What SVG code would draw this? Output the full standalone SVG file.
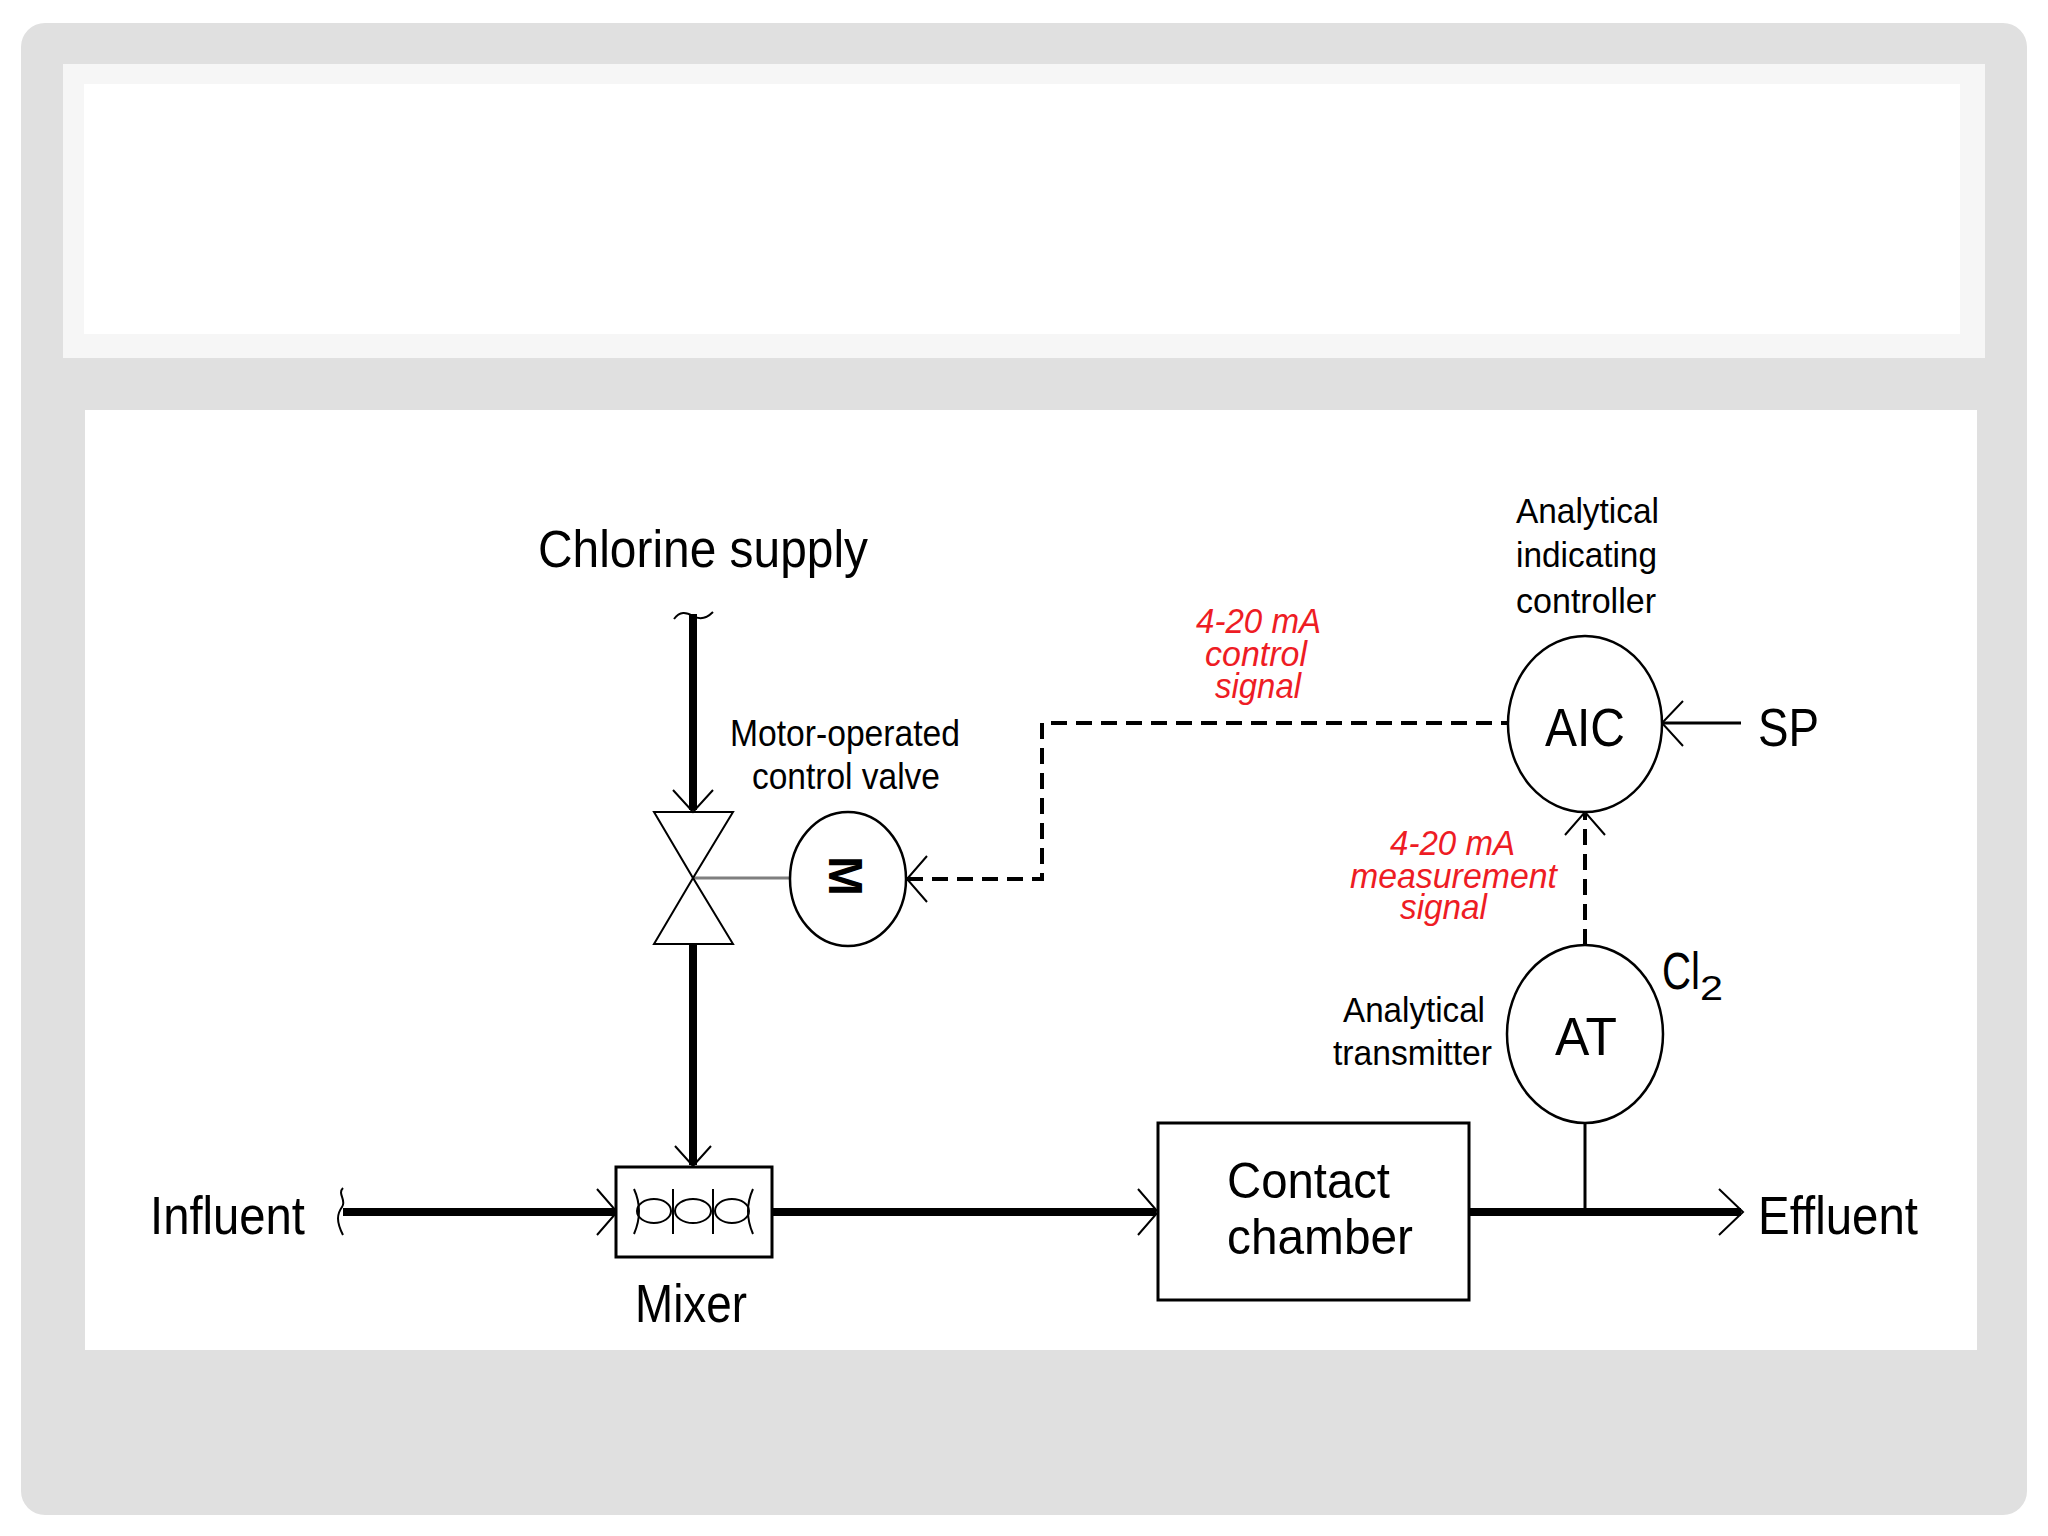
<svg xmlns="http://www.w3.org/2000/svg" width="2048" height="1536" viewBox="0 0 2048 1536">
<defs>
<style>
text{font-family:"Liberation Sans",Arial,sans-serif;fill:#000}
.red{fill:#ee1c24;font-style:italic}
.thin{fill:none;stroke:#000;stroke-width:2}
.pipe{fill:none;stroke:#000;stroke-width:8}
.sig{fill:none;stroke:#000;stroke-width:4;stroke-dasharray:16 9}
.box{fill:#fff;stroke:#000;stroke-width:3}
.inst{fill:#fff;stroke:#000;stroke-width:2.5}
</style>
</defs>
<rect x="0" y="0" width="2048" height="1536" fill="#fff"/>
<rect x="21" y="23" width="2006" height="1492" rx="24" fill="#e0e0e0"/>
<rect x="63" y="64" width="1922" height="294" fill="#f6f6f6"/>
<rect x="84" y="84" width="1876" height="250" fill="#fff"/>
<rect x="85" y="410" width="1892" height="940" fill="#fff"/>

<g id="connectors">
<path class="pipe" d="M693,614 V810" stroke-width="7"/>
<path class="thin" d="M674,619 c6,-8 12,-7 19,-3 s13,3 20,-4"/>
<path class="thin" d="M673,790 L693,812 L713,790"/>
<path class="pipe" d="M693,944 V1165" stroke-width="7"/>
<path class="thin" d="M675,1146 L693,1166 L711,1146"/>
<path d="M693,878 H790" fill="none" stroke="#7f7f7f" stroke-width="3"/>
<path class="sig" d="M907,879 H1042 V723 H1508"/>
<path class="thin" d="M927,856 L907,879 L927,902"/>
<path class="sig" d="M1585,945 V814"/>
<path class="thin" d="M1565,835 L1585,812 L1605,835"/>
<path d="M1741,723 H1663" fill="none" stroke="#000" stroke-width="3"/>
<path class="thin" d="M1683,701 L1662,723 L1683,746"/>
<path d="M1585,1123 V1212" fill="none" stroke="#000" stroke-width="3"/>
<path class="pipe" d="M343,1212 H615"/>
<path class="thin" d="M343,1188 c-6,6 4,12 -1,19 s-6,14 1,28"/>
<path class="thin" d="M597,1189 L617,1212 L597,1235"/>
<path class="pipe" d="M772,1212 H1156"/>
<path class="thin" d="M1138,1189 L1158,1212 L1138,1235"/>
<path class="pipe" d="M1469,1212 H1741"/>
<path class="thin" d="M1719,1189 L1743,1212 L1719,1235"/>
</g>

<g id="chlorine-supply">
<text x="538" y="567" font-size="51" textLength="330" lengthAdjust="spacingAndGlyphs">Chlorine supply</text>
</g>

<g id="control-valve">
<path class="thin" d="M654,812 H733 L693,878 Z"/>
<path class="thin" d="M693,878 L654,944 H733 Z"/>
<text x="730" y="746" font-size="36" textLength="230" lengthAdjust="spacingAndGlyphs">Motor-operated</text>
<text x="752" y="789" font-size="36" textLength="188" lengthAdjust="spacingAndGlyphs">control valve</text>
</g>

<g id="motor">
<ellipse class="inst" cx="848" cy="879" rx="58" ry="67"/>
<text x="0" y="17" font-size="48" font-weight="bold" text-anchor="middle" transform="translate(846,876) rotate(90)">M</text>
</g>

<g id="control-signal-label">
<text class="red" x="1196" y="633" font-size="35" textLength="125" lengthAdjust="spacingAndGlyphs">4-20 mA</text>
<text class="red" x="1205" y="666" font-size="35" textLength="102" lengthAdjust="spacingAndGlyphs">control</text>
<text class="red" x="1215" y="698" font-size="35" textLength="86" lengthAdjust="spacingAndGlyphs">signal</text>
</g>

<g id="aic">
<ellipse class="inst" cx="1585" cy="724" rx="77" ry="88"/>
<text x="1545" y="746" font-size="53" textLength="80" lengthAdjust="spacingAndGlyphs">AIC</text>
<text x="1516" y="523" font-size="35" textLength="143" lengthAdjust="spacingAndGlyphs">Analytical</text>
<text x="1516" y="567" font-size="35" textLength="141" lengthAdjust="spacingAndGlyphs">indicating</text>
<text x="1516" y="613" font-size="35" textLength="140" lengthAdjust="spacingAndGlyphs">controller</text>
</g>

<g id="sp">
<text x="1758" y="746" font-size="53" textLength="61" lengthAdjust="spacingAndGlyphs">SP</text>
</g>

<g id="measurement-signal-label">
<text class="red" x="1390" y="855" font-size="35" textLength="125" lengthAdjust="spacingAndGlyphs">4-20 mA</text>
<text class="red" x="1350" y="888" font-size="35" textLength="207" lengthAdjust="spacingAndGlyphs">measurement</text>
<text class="red" x="1400" y="919" font-size="35" textLength="87" lengthAdjust="spacingAndGlyphs">signal</text>
</g>

<g id="at">
<ellipse class="inst" cx="1585" cy="1034" rx="78" ry="89"/>
<text x="1555" y="1055" font-size="53" textLength="62" lengthAdjust="spacingAndGlyphs">AT</text>
<text x="1662" y="989" font-size="52" textLength="38" lengthAdjust="spacingAndGlyphs">Cl</text>
<text x="1700" y="1000" font-size="35" textLength="23" lengthAdjust="spacingAndGlyphs">2</text>
<text x="1343" y="1022" font-size="35" textLength="142" lengthAdjust="spacingAndGlyphs">Analytical</text>
<text x="1333" y="1065" font-size="35" textLength="159" lengthAdjust="spacingAndGlyphs">transmitter</text>
</g>

<g id="influent">
<text x="150" y="1234" font-size="54" textLength="155" lengthAdjust="spacingAndGlyphs">Influent</text>
</g>

<g id="mixer">
<rect class="box" x="616" y="1167" width="156" height="90"/>
<path class="thin" d="M634,1189 Q644,1211 634,1234 M673,1189 V1234 M713,1189 V1234 M753,1189 Q743,1211 753,1234"/>
<ellipse class="thin" cx="654" cy="1211" rx="17" ry="12"/>
<ellipse class="thin" cx="693" cy="1211" rx="18" ry="12"/>
<ellipse class="thin" cx="732" cy="1211" rx="17" ry="12"/>
<text x="635" y="1322" font-size="53" textLength="112" lengthAdjust="spacingAndGlyphs">Mixer</text>
</g>

<g id="contact-chamber">
<rect class="box" x="1158" y="1123" width="311" height="177"/>
<text x="1227" y="1198" font-size="50" textLength="163" lengthAdjust="spacingAndGlyphs">Contact</text>
<text x="1227" y="1254" font-size="50" textLength="186" lengthAdjust="spacingAndGlyphs">chamber</text>
</g>

<g id="effluent">
<text x="1758" y="1234" font-size="53" textLength="160" lengthAdjust="spacingAndGlyphs">Effluent</text>
</g>
</svg>
